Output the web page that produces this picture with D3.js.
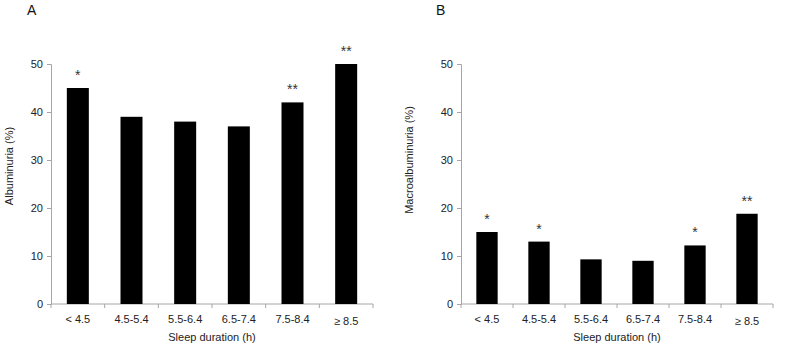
<!DOCTYPE html>
<html>
<head>
<meta charset="utf-8">
<script src="https://cdn.jsdelivr.net/npm/d3@7"></script>
<style>
  body { margin: 0; background: #fff; }
  text { font-family: "Liberation Sans", Arial, sans-serif; }
</style>
</head>
<body>
<svg id="chart"></svg>
<script>
// sleep duration categories and percentages
var categories = ["< 4.5", "4.5-5.4", "5.5-6.4", "6.5-7.4", "7.5-8.4", "≥ 8.5"];
var albuminuria = [45, 39, 38, 37, 42, 50];
var macroalbuminuria = [15, 13, 9.3, 9, 12.2, 18.8];
var starsA = ["*", "", "", "", "**", "**"];
var starsB = ["*", "*", "", "", "*", "**"];
var yTicks = [0, 10, 20, 30, 40, 50];

const svg = d3.select("#chart").attr("width", 786).attr("height", 346);

function createBarPanel(left, right, letter, letterX, yTitle, titleX, titleY, values, stars) {
  const top = 64, bottom = 304;
  const g = svg.append("g");

  const x = d3.scaleBand().domain(categories).range([left, right]);
  const y = d3.scaleLinear().domain([0, 50]).range([bottom, top]);

  // y axis
  const yAxis = g.append("g")
    .attr("transform", `translate(${left}, 0)`)
    .call(d3.axisLeft(y).tickValues(yTicks).tickSize(4).tickPadding(4));
  yAxis.select(".domain").attr("stroke", "#a6a6a6");
  yAxis.selectAll(".tick line").attr("stroke", "#a6a6a6");
  yAxis.selectAll(".tick text").attr("font-size", 11).attr("fill", "#222")
    .attr("font-family", "Liberation Sans, Arial, sans-serif");

  // x axis with ticks at band boundaries
  const xAxis = g.append("g").attr("transform", `translate(0, ${bottom})`);
  xAxis.append("line").attr("x1", left).attr("x2", right)
    .attr("stroke", "#a6a6a6");
  xAxis.selectAll("line.bt")
    .data(categories.map((c, i) => i).concat([categories.length]))
    .join("line")
    .attr("class", "bt")
    .attr("x1", (i) => left + i * x.step())
    .attr("x2", (i) => left + i * x.step())
    .attr("y1", 0).attr("y2", 4)
    .attr("stroke", "#a6a6a6");
  xAxis.selectAll("text")
    .data(categories)
    .join("text")
    .attr("x", (d) => x(d) + x.bandwidth() / 2)
    .attr("y", (d) => d[0] === "≥" ? 21 : 19)
    .attr("text-anchor", "middle")
    .attr("font-size", 11)
    .attr("fill", "#222")
    .text((d) => d);

  // bars
  const bw = x.bandwidth() * 0.41;
  g.selectAll("rect")
    .data(values)
    .join("rect")
    .attr("x", (d, i) => x(categories[i]) + (x.bandwidth() - bw) / 2)
    .attr("y", (d) => y(d))
    .attr("width", bw)
    .attr("height", (d) => bottom - y(d))
    .attr("fill", "#000");

  // significance stars
  g.selectAll("text.star")
    .data(values)
    .join("text")
    .attr("class", "star")
    .attr("x", (d, i) => x(categories[i]) + x.bandwidth() / 2)
    .attr("y", (d) => y(d) - 8)
    .attr("text-anchor", "middle")
    .attr("font-size", 14)
    .attr("fill", "#333")
    .text((d, i) => stars[i]);

  // titles
  g.append("text")
    .attr("x", (left + right) / 2)
    .attr("y", 341)
    .attr("text-anchor", "middle")
    .attr("font-size", 11)
    .attr("fill", "#222")
    .text("Sleep duration (h)");

  g.append("text")
    .attr("transform", `translate(${titleX}, ${titleY}) rotate(-90)`)
    .attr("text-anchor", "middle")
    .attr("font-size", 11)
    .attr("fill", "#222")
    .text(yTitle);

  g.append("text")
    .attr("x", letterX)
    .attr("y", 15)
    .attr("font-size", 14)
    .attr("fill", "#111")
    .text(letter);
}

createBarPanel(51, 373, "A", 27, "Albuminuria (%)", 13, 166, albuminuria, starsA);
createBarPanel(461, 773, "B", 436, "Macroalbuminuria (%)", 413, 160, macroalbuminuria, starsB);
</script>
</body>
</html>
